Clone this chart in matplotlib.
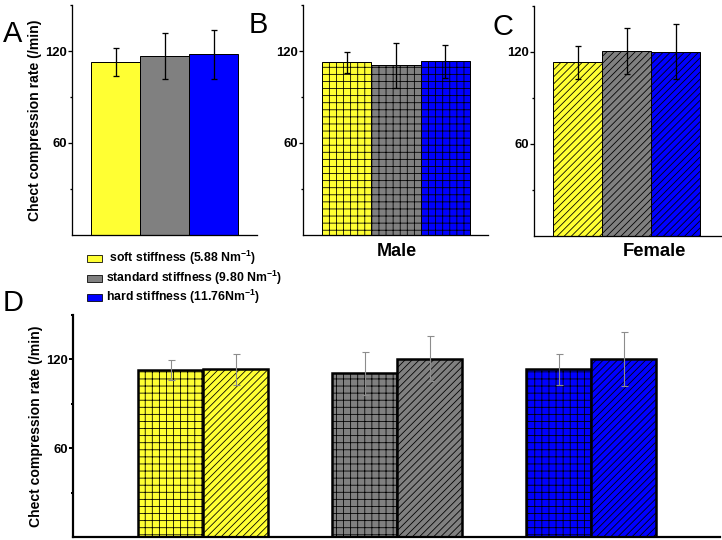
import matplotlib
matplotlib.use('Agg')
import matplotlib.pyplot as plt
from matplotlib.patches import Rectangle
import numpy as np

DPI = 85
W, H = 722, 540


def pt(p):
    return p * 72.0 / DPI


def rect(l, t, r, b):
    return [l / W, 1 - b / H, (r - l) / W, (b - t) / H]


plt.rcParams['font.family'] = ['Liberation Sans', 'DejaVu Sans']
plt.rcParams['mathtext.fontset'] = 'custom'
plt.rcParams['mathtext.rm'] = 'Liberation Sans:bold'
plt.rcParams['mathtext.it'] = 'Liberation Sans:bold'
plt.rcParams['mathtext.bf'] = 'Liberation Sans:bold'
plt.rcParams['mathtext.default'] = 'bf'
plt.rcParams['hatch.linewidth'] = pt(0.8)

# ---------------- data ----------------
levels = [' soft stiffness (5.88 Nm$^{-1}$)',
          'standard stiffness (9.80 Nm$^{-1}$)',
          'hard stiffness (11.76Nm$^{-1}$)']
colors = ['#ffff33', '#808080', '#0000ff']
all_mean = [113.0, 116.7, 117.8]
all_err = [9.0, 15.0, 16.0]
male_mean = [112.7, 110.6, 113.3]
male_err = [6.8, 14.5, 10.6]
female_mean = [113.3, 120.6, 120.2]
female_err = [10.6, 15.0, 18.0]
major_ticks = [60, 120]
minor_ticks = [30, 90, 150]
ylabel = 'Chect compression rate (/min)'
group_labels = ['Male', 'Female']
panel_letters = ['A', 'B', 'C', 'D']

fig = plt.figure(figsize=(W / DPI, H / DPI), dpi=DPI)


def style_axis(ax, spine_w, tick_w):
    for s in ['top', 'right']:
        ax.spines[s].set_visible(False)
    for s in ['left', 'bottom']:
        ax.spines[s].set_linewidth(pt(spine_w))
    ax.set_ylim(0, 150)
    ax.set_yticks(major_ticks)
    ax.set_yticks(minor_ticks, minor=True)
    ax.tick_params(axis='y', which='major', direction='out', length=pt(4),
                   width=pt(tick_w), labelsize=pt(13), pad=pt(1))
    ax.tick_params(axis='y', which='minor', direction='out', length=pt(2.5),
                   width=pt(tick_w))
    for lab in ax.get_yticklabels():
        lab.set_fontweight('bold')
    ax.set_xticks([])


def small_panel(r, means, errs, hatch, xr):
    ax = fig.add_axes(r)
    x = np.arange(len(means))
    ax.bar(x, means, width=1.0, color=colors, edgecolor='black',
           linewidth=pt(1.0), hatch=hatch, zorder=2)
    ax.errorbar(x, means, yerr=errs, fmt='none', ecolor='black',
                elinewidth=pt(1.3), capsize=pt(3), capthick=pt(1.3), zorder=3)
    ax.set_xlim(-0.5 - 19 / 49, 2.5 + xr / 49)
    style_axis(ax, 1.3, 1.3)
    return ax


axA = small_panel(rect(72, 5, 257, 235), all_mean, all_err, None, 19)
axA.set_ylabel(ylabel, fontsize=pt(14), fontweight='bold', labelpad=pt(3))
axB = small_panel(rect(303, 5, 488, 235), male_mean, male_err, '++', 18)
axC = small_panel(rect(534, 6, 722, 236), female_mean, female_err, '////', 22)

# ---------------- panel D ----------------
axD = fig.add_axes(rect(73, 315, 720, 537))
g = np.arange(3)
w = 65 / 194
axD.bar(g - w / 2, male_mean, width=w, color=colors, edgecolor='black',
        linewidth=pt(2.5), hatch='++', zorder=2)
axD.bar(g + w / 2, female_mean, width=w, color=colors, edgecolor='black',
        linewidth=pt(2.5), hatch='////', zorder=2)
axD.errorbar(g - w / 2, male_mean, yerr=male_err, fmt='none', ecolor='#8c8c8c',
             elinewidth=pt(1.1), capsize=pt(3.5), capthick=pt(1.1), zorder=3)
axD.errorbar(g + w / 2, female_mean, yerr=female_err, fmt='none', ecolor='#8c8c8c',
             elinewidth=pt(1.1), capsize=pt(3.5), capthick=pt(1.1), zorder=3)
axD.set_xlim(-130 / 194, 2 + 129 / 194)
style_axis(axD, 2.2, 2.0)
axD.set_ylabel(ylabel, fontsize=pt(14), fontweight='bold', labelpad=pt(3))

# ---------------- group labels ----------------
fig.text(397 / W, 1 - 252 / H, group_labels[0], ha='center', va='center',
         fontsize=pt(18), fontweight='bold')
fig.text(654 / W, 1 - 252 / H, group_labels[1], ha='center', va='center',
         fontsize=pt(18.5), fontweight='bold')

# ---------------- panel letters ----------------
letter_pos = [(3, 42), (249, 33), (492, 35), (3, 311)]
for lt, (lx, ly) in zip(panel_letters, letter_pos):
    fig.text(lx / W, 1 - ly / H, lt, ha='left', va='baseline',
             fontsize=pt(29))

# ---------------- legend ----------------
leg_y = [258, 278, 297]
for c, lab, yy in zip(colors, levels, leg_y):
    fig.add_artist(Rectangle((87 / W, 1 - (yy + 3.5) / H), 15 / W, 7 / H,
                             facecolor=c, edgecolor='black', linewidth=pt(0.8),
                             transform=fig.transFigure))
    fig.text(106 / W, 1 - yy / H, lab, ha='left', va='center',
             fontsize=pt(12.3), fontweight='bold')

fig.savefig('out.png', dpi=DPI)
